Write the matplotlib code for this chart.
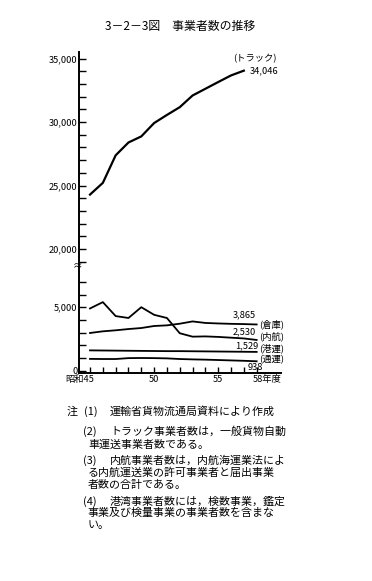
import numpy as np
import matplotlib
matplotlib.use('Agg')
import matplotlib.pyplot as plt
import matplotlib.transforms as mtransforms

plt.rcParams['font.family'] = ['Noto Sans CJK JP', 'DejaVu Sans']

# data
years = [45, 46, 47, 48, 49, 50, 51, 52, 53, 54, 55, 56, 57, 58]
truck_years = [45, 46, 47, 48, 49, 50, 51, 52, 53, 54, 55, 56, 57]
truck = [24290, 25210, 27380, 28390, 28870, 29920, 30560, 31170, 32090, 32620, 33150, 33670, 34046]
naiko = [4900, 5400, 4300, 4150, 5000, 4400, 4150, 2950, 2680, 2700, 2660, 2600, 2540, 2420]
soko = [2970, 3100, 3180, 3280, 3360, 3520, 3570, 3700, 3880, 3760, 3720, 3690, 3670, 3640]
kouun = [1600, 1590, 1580, 1570, 1560, 1550, 1540, 1540, 1530, 1520, 1510, 1500, 1490, 1480]
tsuun = [930, 920, 920, 990, 1000, 990, 970, 920, 890, 870, 840, 810, 780, 740]

major_y = [0, 5000, 20000, 25000, 30000, 35000]
major_y_labels = ['0', '5,000', '20,000', '25,000', '30,000', '35,000']
minor_y = [1000, 2000, 3000, 4000, 6000, 7000, 19000, 21000, 22000, 23000, 24000,
           26000, 27000, 28000, 29000, 31000, 32000, 33000, 34000]
x_labels = ['昭和45', '50', '55', '58年度']
x_label_pos = [45, 50, 55, 58]

notes = [
    (67, 412, '注'),
    (84, 412, '(1)'),
    (110, 412, '運輸省貨物流通局資料により作成'),
    (83, 432, '(2)'),
    (110, 432, 'トラック事業者数は，一般貨物自動'),
    (88, 445, '車運送事業者数である。'),
    (83, 461, '(3)'),
    (110, 461, '内航事業者数は，内航海運業法によ'),
    (88, 473, 'る内航運送業の許可事業者と届出事業'),
    (88, 485, '者数の合計である。'),
    (83, 502, '(4)'),
    (110, 502, '港湾事業者数には，検数事業，鑑定'),
    (88, 513, '事業及び検量事業の事業者数を含まな'),
    (88, 525, 'い。'),
]

# broken y axis: values between BRK_LO and BRK_LO+GAP are squeezed out
BRK_LO = 8240
GAP = 10420


def fwd(v):
    v = np.asarray(v, dtype=float)
    return np.where(v <= BRK_LO, v, np.where(v >= BRK_LO + GAP, v - GAP, BRK_LO))


def inv(d):
    d = np.asarray(d, dtype=float)
    return np.where(d <= BRK_LO, d, d + GAP)


W, H = 372, 581
fig = plt.figure(figsize=(W / 100, H / 100), dpi=100)
ax = fig.add_axes([79 / W, 1 - 372.6 / H, 202 / W, 320.4 / H])
ax.set_yscale('function', functions=(fwd, inv))


def px(x, y):
    return x / W, 1 - y / H


lw = 1.3
ax.plot(truck_years, truck, color='black', lw=1.6)
ax.plot(years, naiko, color='black', lw=lw)
ax.plot(years, soko, color='black', lw=lw)
ax.plot(years, kouun, color='black', lw=lw)
ax.plot(years, tsuun, color='black', lw=lw)

ax.set_xlim(44.14, 59.9)
ax.set_ylim(-150, 35500)

for s in ['top', 'right']:
    ax.spines[s].set_visible(False)
for s in ['left', 'bottom']:
    ax.spines[s].set_linewidth(1.4)

ax.set_yticks(major_y, major_y_labels)
ax.set_yticks(minor_y, minor=True)
ax.tick_params(axis='y', which='both', direction='in', length=5, width=1,
               labelsize=6.7, pad=1)
ax.set_xticks(x_label_pos, x_labels)
ax.set_xticks(years, minor=True)
ax.tick_params(axis='x', which='both', direction='in', length=4, width=1,
               labelsize=6.7, pad=2)
xt = ax.get_xticklabels()
xt[0].set_ha('right')
xt[0].set_transform(xt[0].get_transform() + mtransforms.ScaledTranslation(0.04, 0, fig.dpi_scale_trans))
xt[-1].set_ha('left')
xt[-1].set_transform(xt[-1].get_transform() + mtransforms.ScaledTranslation(-0.04, 0, fig.dpi_scale_trans))

# break mark on the axis
ax.text(44.0, BRK_LO, '≈', ha='center', va='center', fontsize=7, clip_on=False)

# title
fig.text(*px(180, 26), '3－2－3図　事業者数の推移', ha='center', va='center', fontsize=8.6)

# series labels
lab = [
    (233, 59, '(トラック)'),
    (250, 71, '34,046'),
    (233, 315, '3,865'),
    (259, 324, '(倉庫)'),
    (233, 332, '2,530'),
    (259, 336, '(内航)'),
    (235, 346, '1,529'),
    (259, 348.5, '(港運)'),
    (259, 360, '(通運)'),
    (248, 367, '938'),
]
for x, y, t in lab:
    fig.text(*px(x, y), t, ha='left', va='center', fontsize=6.7)

for x, y, t in notes:
    fig.text(*px(x, y), t, ha='left', va='center', fontsize=7.9)

fig.savefig('out.png', dpi=100)
